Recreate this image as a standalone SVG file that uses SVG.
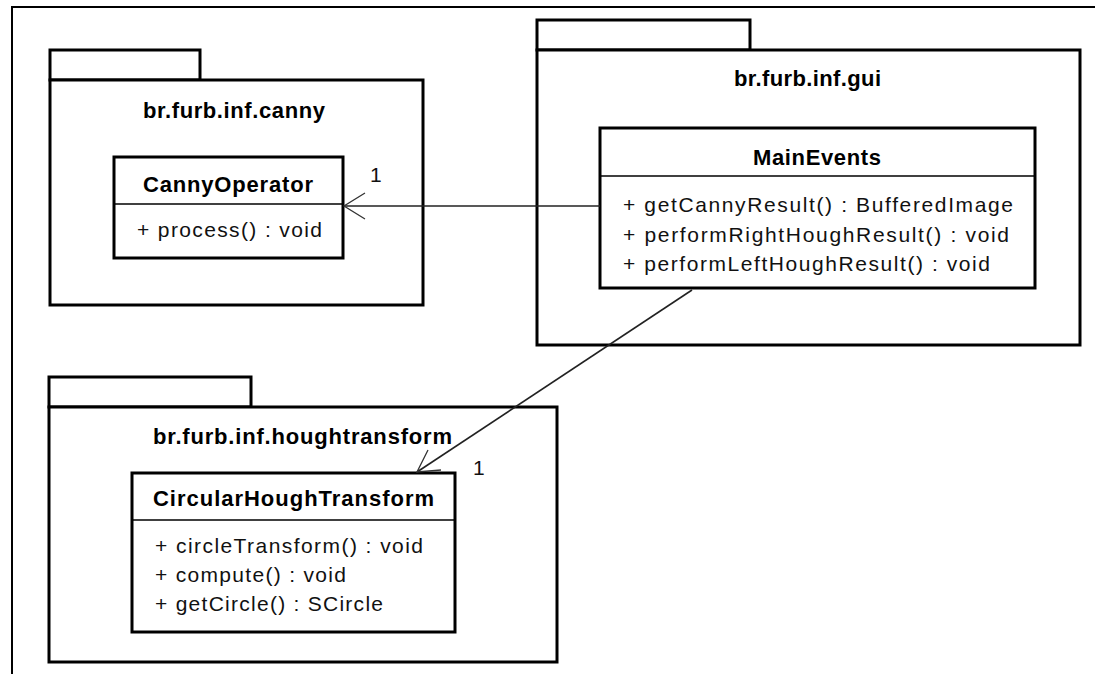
<svg xmlns="http://www.w3.org/2000/svg" width="1095" height="674" viewBox="0 0 1095 674">
  <defs>
    <style>
      .frame { fill: none; stroke: #000; stroke-width: 2; }
      .pkg { fill: #fff; stroke: #000; stroke-width: 3; }
      .cls { fill: #fff; stroke: #000; stroke-width: 3; }
      .div { stroke: #000; stroke-width: 1.5; }
      .conn { fill: none; stroke: #222; stroke-width: 1.6; }
      .head { fill: none; stroke: #333; stroke-width: 1.3; }
      .title { font-family: "Liberation Sans", Arial, sans-serif; font-weight: bold; font-size: 22px; fill: #000; }
      .op { font-family: "Liberation Sans", Arial, sans-serif; font-size: 21px; fill: #111; }
      .mult { font-family: "Liberation Sans", Arial, sans-serif; font-size: 21px; fill: #111; }
    </style>
  </defs>
  <rect width="1095" height="674" fill="#fff"/>

  <!-- diagram frame (open on right and bottom) -->
  <path class="frame" d="M12 674 V7 H1095"/>

  <!-- package br.furb.inf.canny -->
  <g id="pkg-canny">
    <rect class="pkg" x="50" y="50" width="150" height="30"/>
    <rect class="pkg" x="50" y="80" width="373" height="225"/>
    <text class="title" x="143" y="118" textLength="182" lengthAdjust="spacing">br.furb.inf.canny</text>
  </g>

  <!-- package br.furb.inf.gui -->
  <g id="pkg-gui">
    <rect class="pkg" x="537" y="20" width="213" height="30"/>
    <rect class="pkg" x="537" y="50" width="543" height="295"/>
    <text class="title" x="734" y="86" textLength="147" lengthAdjust="spacing">br.furb.inf.gui</text>
  </g>

  <!-- package br.furb.inf.houghtransform -->
  <g id="pkg-hough">
    <rect class="pkg" x="49" y="377" width="202" height="30"/>
    <rect class="pkg" x="49" y="407" width="508" height="255"/>
    <text class="title" x="153" y="444" textLength="299" lengthAdjust="spacing">br.furb.inf.houghtransform</text>
  </g>

  <!-- class CannyOperator -->
  <g id="cls-canny-operator">
    <rect class="cls" x="114" y="157" width="229" height="101"/>
    <line class="div" x1="114" y1="204" x2="343" y2="204"/>
    <text class="title" x="143" y="192" textLength="170" lengthAdjust="spacing">CannyOperator</text>
    <text class="op" x="137" y="237" textLength="185" lengthAdjust="spacing">+ process() : void</text>
  </g>

  <!-- class MainEvents -->
  <g id="cls-main-events">
    <rect class="cls" x="600" y="128" width="435" height="160"/>
    <line class="div" x1="600" y1="176" x2="1035" y2="176"/>
    <text class="title" x="753" y="165" textLength="128" lengthAdjust="spacing">MainEvents</text>
    <text class="op" x="623" y="212" textLength="390" lengthAdjust="spacing">+ getCannyResult() : BufferedImage</text>
    <text class="op" x="623" y="242" textLength="386" lengthAdjust="spacing">+ performRightHoughResult() : void</text>
    <text class="op" x="623" y="271" textLength="367" lengthAdjust="spacing">+ performLeftHoughResult() : void</text>
  </g>

  <!-- class CircularHoughTransform -->
  <g id="cls-circular-hough">
    <rect class="cls" x="132" y="473" width="323" height="159"/>
    <line class="div" x1="132" y1="520" x2="455" y2="520"/>
    <text class="title" x="153" y="506" textLength="281" lengthAdjust="spacing">CircularHoughTransform</text>
    <text class="op" x="155" y="553" textLength="268" lengthAdjust="spacing">+ circleTransform() : void</text>
    <text class="op" x="155" y="582" textLength="191" lengthAdjust="spacing">+ compute() : void</text>
    <text class="op" x="155" y="611" textLength="228" lengthAdjust="spacing">+ getCircle() : SCircle</text>
  </g>

  <!-- navigable associations -->
  <g id="connectors">
    <line class="conn" x1="600" y1="206" x2="344" y2="206"/>
    <path class="head" d="M365 193 L344 206 L365 219"/>
    <text class="mult" x="370" y="182">1</text>

    <line class="conn" x1="692" y1="290" x2="417" y2="472"/>
    <path class="head" d="M428 450 L417 472 L441 470"/>
    <text class="mult" x="473" y="475">1</text>
  </g>
</svg>
